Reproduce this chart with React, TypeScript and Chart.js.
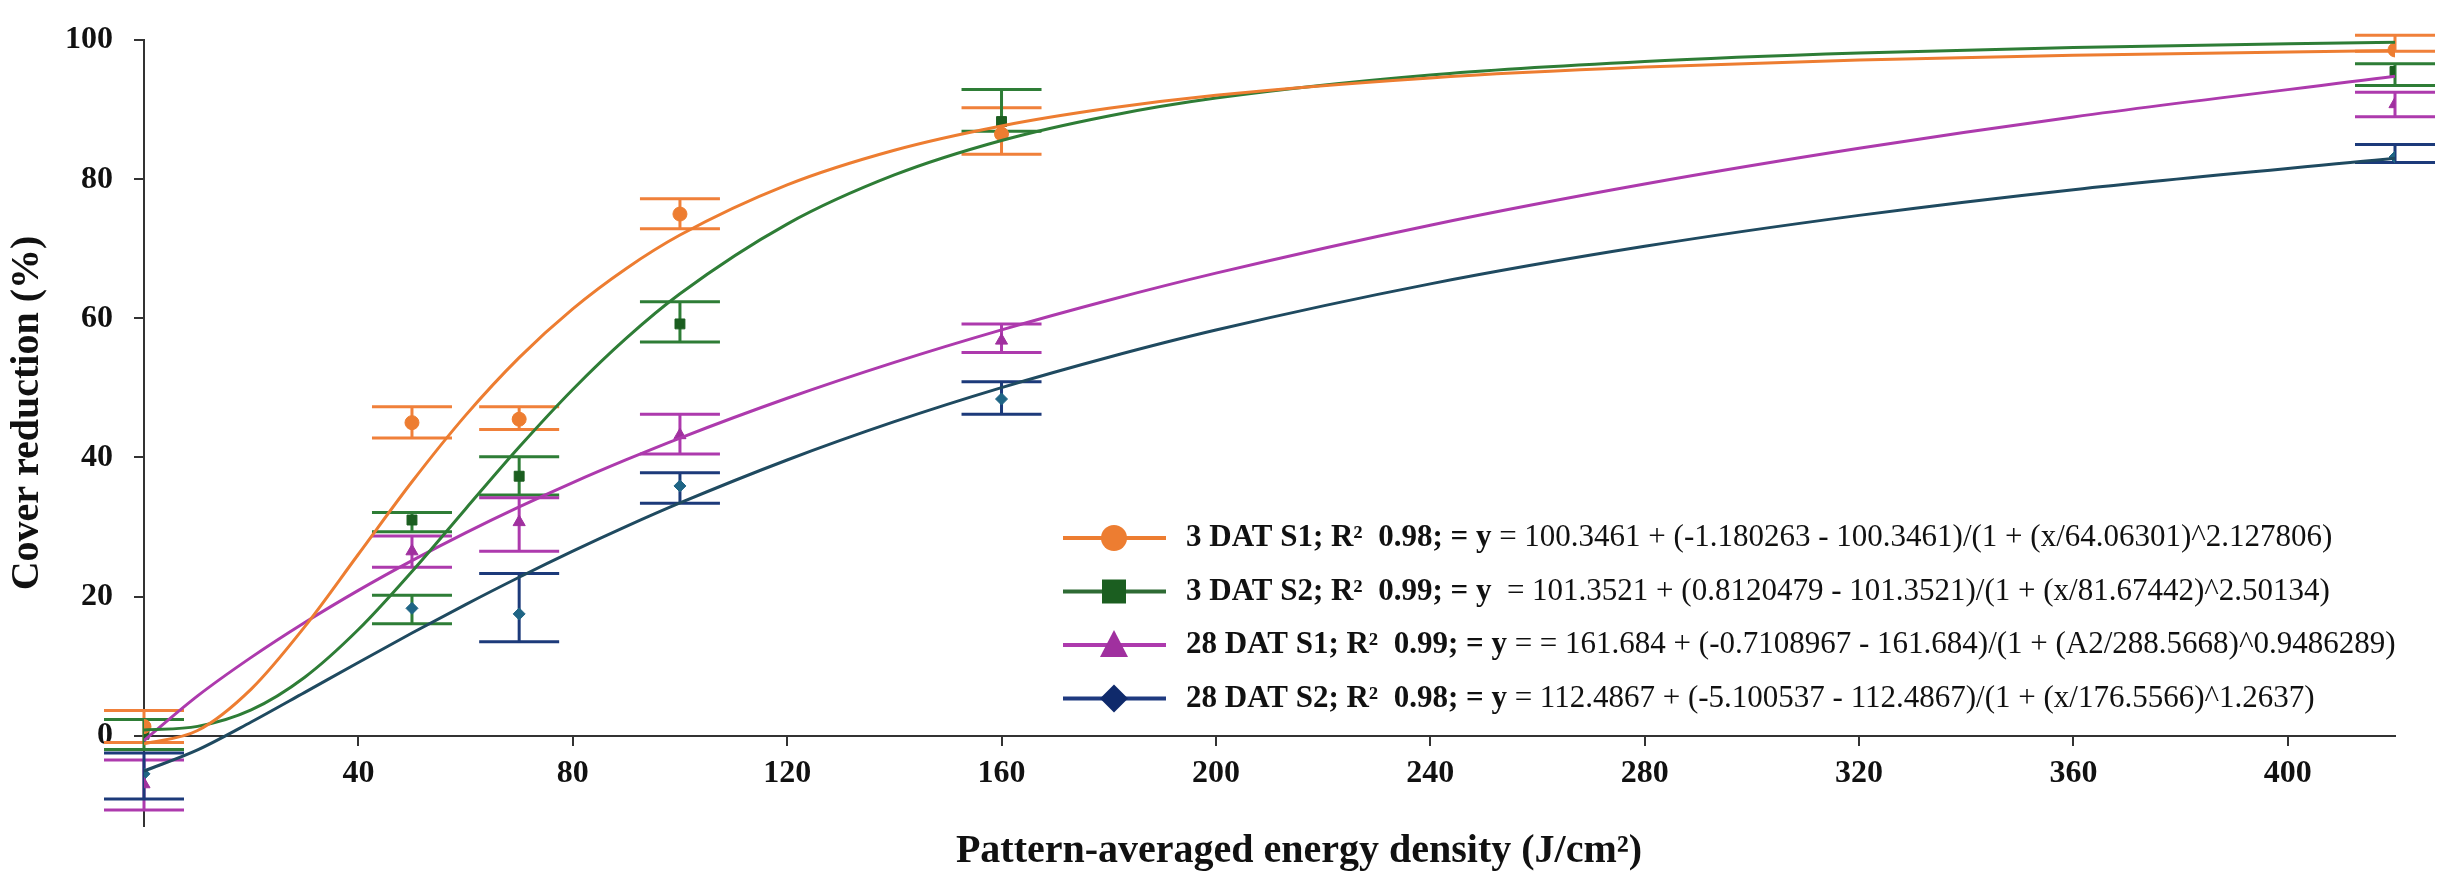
import { useEffect, useRef } from "react"
import { Chart, registerables } from "chart.js"

Chart.register(...registerables)

// measured points (J/cm2)
const pointX = [0, 50, 70, 100, 160, 420]

const s1Mean = [1.3, 45.0, 45.5, 75.0, 86.5, 98.6]
const s1Low = [-1.0, 42.8, 44.0, 72.9, 83.6, 98.4]
const s1High = [3.6, 47.3, 47.3, 77.2, 90.3, 100.7]

const s2Mean = [0.2, 31.0, 37.3, 59.2, 88.3, 95.5]
const s2Low = [-2.0, 29.3, 34.6, 56.6, 86.9, 93.5]
const s2High = [2.3, 32.1, 40.1, 62.4, 92.9, 96.6]

const d28s1Mean = [-7.0, 26.5, 30.7, 43.2, 56.8, 90.8]
const d28s1Low = [-10.7, 24.2, 26.5, 40.5, 55.1, 89.0]
const d28s1High = [-3.5, 28.7, 34.2, 46.2, 59.2, 92.5]

const d28s2Mean = [-5.5, 18.3, 17.5, 35.9, 48.4, 83.2]
const d28s2Low = [-9.1, 16.1, 13.5, 33.4, 46.2, 82.4]
const d28s2High = [-2.5, 20.2, 23.3, 37.8, 50.9, 85.0]

// fitted curves
const curveX = [0, 10, 20, 30, 40, 50, 60, 70, 80, 90, 100, 120, 140, 160, 180, 200, 240, 280, 320, 360, 420]
const s1Fit = [-1.18, 0.73, 6.69, 15.67, 26.08, 36.5, 46.05, 54.36, 61.37, 67.18, 71.98, 79.2, 84.18, 87.67, 90.2, 92.08, 94.58, 96.13, 97.14, 97.83, 98.52]
const s2Fit = [0.81, 1.33, 3.7, 8.4, 15.25, 23.6, 32.6, 41.5, 49.78, 57.16, 63.54, 73.56, 80.62, 85.58, 89.11, 91.68, 95.0, 96.94, 98.15, 98.95, 99.71]
const d28s1Fit = [-0.71, 5.71, 11.25, 16.27, 20.89, 25.17, 29.16, 32.89, 36.39, 39.68, 42.79, 48.51, 53.67, 58.35, 62.61, 66.5, 73.4, 79.32, 84.46, 88.97, 94.8]
const d28s2Fit = [-5.1, -2.06, 1.95, 6.22, 10.52, 14.75, 18.84, 22.77, 26.52, 30.08, 33.45, 39.63, 45.14, 50.04, 54.41, 58.32, 64.96, 70.36, 74.81, 78.51, 83.01]

const legendLabels = [
  "3 DAT S1; R\u00B2  0.98; = y",
  "3 DAT S2; R\u00B2  0.99; = y",
  "28 DAT S1; R\u00B2  0.99; = y",
  "28 DAT S2; R\u00B2  0.98; = y",
]
const legendEquations = [
  " = 100.3461 + (-1.180263 - 100.3461)/(1 + (x/64.06301)^2.127806)",
  "  = 101.3521 + (0.8120479 - 101.3521)/(1 + (x/81.67442)^2.50134)",
  " = = 161.684 + (-0.7108967 - 161.684)/(1 + (A2/288.5668)^0.9486289)",
  " = 112.4867 + (-5.100537 - 112.4867)/(1 + (x/176.5566)^1.2637)",
]

const xTitle = "Pattern-averaged energy density (J/cm\u00B2)"
const yTitle = "Cover reduction (%)"

const FONT = '"Liberation Serif", "Times New Roman", serif'

const series = [
  { mean: s1Mean, lo: s1Low, hi: s1High, fit: s1Fit, line: "#ED7D31", marker: "#ED7D31", legendMarker: "#ED7D31", bar: ["#F0803A"], style: "circle", r: 7 },
  { mean: s2Mean, lo: s2Low, hi: s2High, fit: s2Fit, line: "#2E7D36", marker: "#1B5E20", legendMarker: "#1B5E20", bar: ["#2E7D36"], style: "rect", r: 7 },
  { mean: d28s1Mean, lo: d28s1Low, hi: d28s1High, fit: d28s1Fit, line: "#AD3AAD", marker: "#A0309F", legendMarker: "#A0309F", bar: ["#AD3AAD"], style: "triangle", r: 7 },
  { mean: d28s2Mean, lo: d28s2Low, hi: d28s2High, fit: d28s2Fit, line: "#1F4A60", marker: "#1F6585", legendMarker: "#0F2A6B", bar: ["#1C3A7A", "#2E7D36", "#1C3A7A", "#1C3A7A", "#1C3A7A", "#1C3A7A"], style: "rectRot", r: 6 },
]
const legendLine = ["#ED7D31", "#2E6B34", "#AD3AAD", "#1F3A80"]

const errorBarsPlugin = {
  id: "errorBars",
  beforeDatasetsDraw(chart: any) {
    const { ctx, scales } = chart
    ctx.save()
    ctx.lineWidth = 3
    series.forEach((s) => {
      pointX.forEach((xv, i) => {
        const px = scales.x.getPixelForValue(xv)
        const yl = scales.y.getPixelForValue(s.lo[i])
        const yh = scales.y.getPixelForValue(s.hi[i])
        ctx.strokeStyle = s.bar[i] || s.bar[0]
        ctx.beginPath()
        ctx.moveTo(px, yl)
        ctx.lineTo(px, yh)
        ctx.moveTo(px - 40, yl)
        ctx.lineTo(px + 40, yl)
        ctx.moveTo(px - 40, yh)
        ctx.lineTo(px + 40, yh)
        ctx.stroke()
      })
    })
    ctx.restore()
  },
}

const textPlugin = {
  id: "textLayer",
  afterDraw(chart: any) {
    const { ctx } = chart
    ctx.save()
    ctx.fillStyle = "#111"
    // axis titles
    ctx.font = `bold 40px ${FONT}`
    ctx.textAlign = "center"
    ctx.textBaseline = "middle"
    ctx.fillText(xTitle, 1299, 852)
    ctx.translate(28, 413)
    ctx.rotate(-Math.PI / 2)
    ctx.fillText(yTitle, 0, 0)
    ctx.restore()

    // legend
    ctx.save()
    legendLabels.forEach((label, i) => {
      const y = 538 + i * 53.5
      const s = series[i]
      ctx.strokeStyle = legendLine[i]
      ctx.lineWidth = 4
      ctx.beginPath()
      ctx.moveTo(1063, y)
      ctx.lineTo(1166, y)
      ctx.stroke()
      ctx.fillStyle = s.legendMarker
      ctx.beginPath()
      if (s.style === "circle") {
        ctx.arc(1114, y, 13, 0, Math.PI * 2)
      } else if (s.style === "rect") {
        ctx.rect(1102, y - 12, 24, 24)
      } else if (s.style === "triangle") {
        ctx.moveTo(1114, y - 15)
        ctx.lineTo(1128, y + 12)
        ctx.lineTo(1100, y + 12)
        ctx.closePath()
      } else {
        ctx.moveTo(1114, y - 14)
        ctx.lineTo(1128, y)
        ctx.lineTo(1114, y + 14)
        ctx.lineTo(1100, y)
        ctx.closePath()
      }
      ctx.fill()
      ctx.fillStyle = "#111"
      ctx.textAlign = "left"
      ctx.textBaseline = "middle"
      ctx.font = `bold 31px ${FONT}`
      ctx.fillText(label, 1186, y)
      const w = ctx.measureText(label).width
      ctx.font = `31px ${FONT}`
      ctx.fillText(legendEquations[i], 1186 + w, y)
    })
    ctx.restore()
  },
}

export default function App() {
  const chartRef = useRef<HTMLCanvasElement>(null)
  const chartInstance = useRef<Chart | null>(null)

  useEffect(() => {
    if (!chartRef.current) return
    if (chartInstance.current) chartInstance.current.destroy()

    const datasets: any[] = []
    series.forEach((s) => {
      datasets.push({
        type: "line",
        data: curveX.map((x, i) => ({ x, y: s.fit[i] })),
        borderColor: s.line,
        borderWidth: 3,
        pointRadius: 0,
        fill: false,
        cubicInterpolationMode: "monotone",
      })
    })
    series.forEach((s) => {
      datasets.push({
        type: "scatter",
        data: pointX.map((x, i) => ({ x, y: s.mean[i] })),
        backgroundColor: s.marker,
        borderColor: s.marker,
        pointStyle: s.style,
        pointRadius: s.r,
        showLine: false,
      })
    })

    const tickFont = { family: FONT, size: 32, weight: "bold" as const }

    chartInstance.current = new Chart(chartRef.current, {
      type: "scatter",
      data: { datasets },
      plugins: [errorBarsPlugin, textPlugin],
      options: {
        animation: false,
        responsive: true,
        maintainAspectRatio: false,
        layout: { padding: { top: 19, right: 55, bottom: 53, left: 0 } },
        plugins: { legend: { display: false }, tooltip: { enabled: false } },
        scales: {
          x: {
            type: "linear",
            position: { y: 0 },
            min: 0,
            max: 420,
            ticks: { stepSize: 40, font: tickFont, color: "#111", padding: 10, maxRotation: 0 },
            afterBuildTicks: (s: any) => {
              s.ticks = s.ticks.filter((t: any) => t.value > 0 && t.value % 40 === 0)
            },
            grid: { drawOnChartArea: false, drawTicks: true, tickLength: 9, color: "#333", lineWidth: 2 },
            border: { color: "#333", width: 2 },
          },
          y: {
            type: "linear",
            min: -13,
            max: 100,
            ticks: { stepSize: 20, font: tickFont, color: "#111", padding: 21 },
            afterBuildTicks: (s: any) => {
              s.ticks = s.ticks.filter((t: any) => t.value % 20 === 0)
            },
            afterFit: (s: any) => {
              s.width = 144
            },
            grid: { drawOnChartArea: false, drawTicks: true, tickLength: 10, color: "#333", lineWidth: 2 },
            border: { color: "#333", width: 2 },
          },
        },
      } as any,
    })

    return () => {
      if (chartInstance.current) {
        chartInstance.current.destroy()
        chartInstance.current = null
      }
    }
  }, [])

  return (
    <div style={{ position: "fixed", left: 0, top: 0, width: 2450, height: 879, background: "#fff" }}>
      <canvas ref={chartRef} />
    </div>
  )
}
